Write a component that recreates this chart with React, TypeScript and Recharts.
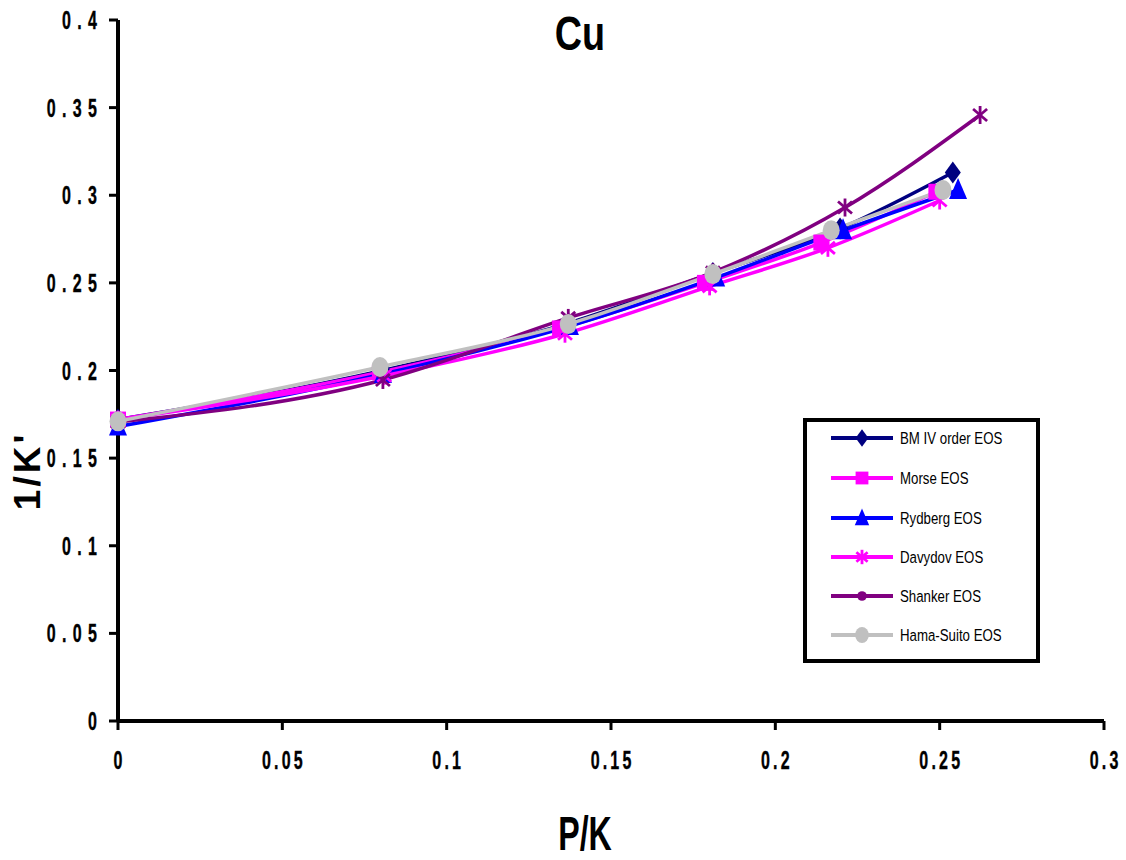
import React from "react";
import { LineChart, Line, XAxis, YAxis } from "recharts";

// P/K values and 1/K' values
const bmX = [0, 0.0806, 0.137, 0.181, 0.2197, 0.254];
const bmY = [0.172, 0.2, 0.227, 0.2556, 0.281, 0.313];
const morseX = [0, 0.0797, 0.1345, 0.1786, 0.214, 0.249];
const morseY = [0.172, 0.199, 0.224, 0.25, 0.273, 0.302];
const rydbergX = [0, 0.0806, 0.1375, 0.182, 0.2206, 0.2556];
const rydbergY = [0.168, 0.198, 0.2254, 0.253, 0.28, 0.303];
const davydovX = [0, 0.081, 0.136, 0.18, 0.216, 0.25];
const davydovY = [0.172, 0.197, 0.221, 0.248, 0.27, 0.297];
const shankerX = [0, 0.0806, 0.137, 0.181, 0.2212, 0.2623];
const shankerY = [0.1706, 0.1946, 0.23, 0.256, 0.293, 0.3458];
const hamaX = [0, 0.0797, 0.137, 0.181, 0.217, 0.251];
const hamaY = [0.171, 0.202, 0.2265, 0.255, 0.28, 0.303];

const xTicks = [0, 0.05, 0.1, 0.15, 0.2, 0.25, 0.3];
const yTicks = [0, 0.05, 0.1, 0.15, 0.2, 0.25, 0.3, 0.35, 0.4];

const toPoints = (xs: number[], ys: number[]) => xs.map((x, i) => ({ x, y: ys[i] }));

type Marker = "diamond" | "square" | "triangle" | "star" | "circle" | "ellipse";

const series = [
  { name: "BM IV order EOS", color: "#000080", marker: "diamond" as Marker, legendMarker: "diamond" as Marker, data: toPoints(bmX, bmY) },
  { name: "Morse EOS", color: "#FF00FF", marker: "square" as Marker, legendMarker: "square" as Marker, data: toPoints(morseX, morseY) },
  { name: "Rydberg EOS", color: "#0000FF", marker: "triangle" as Marker, legendMarker: "triangle" as Marker, data: toPoints(rydbergX, rydbergY) },
  { name: "Davydov EOS", color: "#FF00FF", marker: "star" as Marker, legendMarker: "star" as Marker, data: toPoints(davydovX, davydovY) },
  { name: "Shanker EOS", color: "#800080", marker: "star" as Marker, legendMarker: "circle" as Marker, data: toPoints(shankerX, shankerY) },
  { name: "Hama-Suito EOS", color: "#C0C0C0", marker: "ellipse" as Marker, legendMarker: "ellipse" as Marker, data: toPoints(hamaX, hamaY) },
];

const FONT = "'Liberation Sans', Arial, sans-serif";

function markerShape(kind: Marker, cx: number, cy: number, color: string, s = 1) {
  switch (kind) {
    case "diamond":
      return <path d={`M${cx},${cy - 11 * s} L${cx + 8 * s},${cy} L${cx},${cy + 11 * s} L${cx - 8 * s},${cy} Z`} fill={color} />;
    case "square":
      return <rect x={cx - 8 * s} y={cy - 8 * s} width={16 * s} height={16 * s} fill={color} />;
    case "triangle":
      return <path d={`M${cx},${cy - 12 * s} L${cx + 9 * s},${cy + 9 * s} L${cx - 9 * s},${cy + 9 * s} Z`} fill={color} />;
    case "star":
      return (
        <g stroke={color} strokeWidth={2.8}>
          <line x1={cx} y1={cy - 9 * s} x2={cx} y2={cy + 9 * s} />
          <line x1={cx - 7 * s} y1={cy - 6 * s} x2={cx + 7 * s} y2={cy + 6 * s} />
          <line x1={cx - 7 * s} y1={cy + 6 * s} x2={cx + 7 * s} y2={cy - 6 * s} />
        </g>
      );
    case "circle":
      return <circle cx={cx} cy={cy} r={6 * s} fill={color} />;
    default:
      return <ellipse cx={cx} cy={cy} rx={8.5 * s} ry={10 * s} fill={color} />;
  }
}

const makeDot = (kind: Marker, color: string) => (props: any) => (
  <g key={`${kind}-${color}-${props.index}`}>{markerShape(kind, props.cx, props.cy, color)}</g>
);

const YTick = (props: any) => {
  const { x, y, payload } = props;
  return (
    <g transform={`translate(${x - 10},${y})`}>
      <text transform="scale(0.64,1)" textAnchor="end" dy="0.36em" fontFamily={FONT} fontWeight="bold"
        fontSize={25} letterSpacing={10} dx={10} fill="#000" stroke="#000" strokeWidth={0.4}>
        {String(payload.value)}
      </text>
    </g>
  );
};

const XTick = (props: any) => {
  const { x, y, payload } = props;
  return (
    <g transform={`translate(${x},${y + 37})`}>
      <text transform="scale(0.64,1)" textAnchor="middle" fontFamily={FONT} fontWeight="bold"
        fontSize={25} letterSpacing={5} dx={2.5} fill="#000" stroke="#000" strokeWidth={0.4}>
        {String(payload.value)}
      </text>
    </g>
  );
};

const LegendBox = () => (
  <div style={{ position: "absolute", left: 803, top: 418, width: 237, height: 245, border: "4px solid #000", boxSizing: "border-box", background: "#fff" }}>
    <svg width={229} height={237} style={{ display: "block" }}>
      {series.map((s, i) => {
        const cy = 16 + [0, 40, 80, 119, 158, 197][i];
        return (
          <g key={s.name}>
            <line x1={24} x2={86} y1={cy} y2={cy} stroke={s.color} strokeWidth={4} />
            {markerShape(s.legendMarker, 55, cy, s.color, 0.8)}
            <g transform={`translate(93,${cy})`}>
              <text transform="scale(0.78,1)" dy="0.36em" fontFamily={FONT} fontSize={17} fill="#000">
                {s.name}
              </text>
            </g>
          </g>
        );
      })}
    </svg>
  </div>
);

export default function App() {
  return (
    <div style={{ position: "absolute", left: 0, top: 0, width: 1126, height: 860, background: "#fff" }}>
      <LineChart width={1126} height={860} margin={{ top: 20, right: 22, bottom: 99, left: 48 }}>
        <XAxis type="number" dataKey="x" domain={[0, 0.3]} ticks={xTicks} allowDuplicatedCategory={false}
          height={40} axisLine={{ stroke: "#000", strokeWidth: 4 }} tickLine={{ stroke: "#000", strokeWidth: 3 }}
          tickSize={9} tick={<XTick />} />
        <YAxis type="number" dataKey="y" domain={[0, 0.4]} ticks={yTicks} width={70}
          axisLine={{ stroke: "#000", strokeWidth: 4 }} tickLine={{ stroke: "#000", strokeWidth: 3 }}
          tickSize={9} tick={<YTick />} />
        {series.map((s) => (
          <Line key={s.name} name={s.name} data={s.data} dataKey="y" type="monotone" stroke={s.color}
            strokeWidth={3.5} dot={makeDot(s.marker, s.color)} activeDot={false} isAnimationActive={false} />
        ))}
      </LineChart>
      <LegendBox />
      <svg width={1126} height={860} style={{ position: "absolute", left: 0, top: 0, pointerEvents: "none" }}>
        <g transform="translate(580,50)">
          <text transform="scale(0.77,1)" textAnchor="middle" fontFamily={FONT} fontWeight="bold" fontSize={49} fill="#000">
            Cu
          </text>
        </g>
        <g transform="translate(40,471) rotate(-90)">
          <text textAnchor="middle" fontFamily={FONT} fontWeight="bold" fontSize={37} letterSpacing={3} fill="#000">
            1/K'
          </text>
        </g>
        <g transform="translate(585,850)">
          <text transform="scale(0.67,1)" textAnchor="middle" fontFamily={FONT} fontWeight="bold" fontSize={48} fill="#000">
            P/K
          </text>
        </g>
      </svg>
    </div>
  );
}
